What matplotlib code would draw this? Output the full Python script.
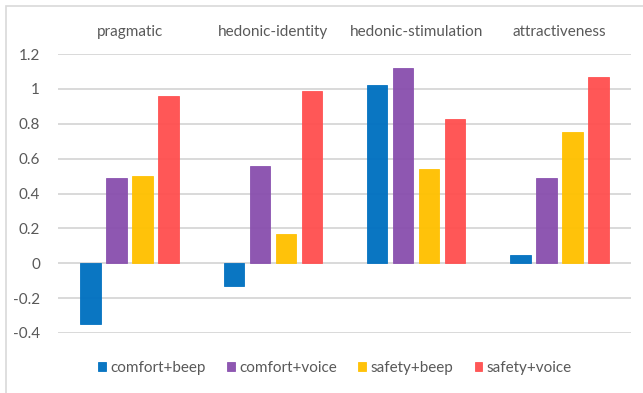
import matplotlib
matplotlib.use("Agg")
import matplotlib.pyplot as plt
import numpy as np
from matplotlib.patches import Rectangle

categories = ["pragmatic", "hedonic-identity", "hedonic-stimulation", "attractiveness"]
series_names = ["comfort+beep", "comfort+voice", "safety+beep", "safety+voice"]
comfort_beep = [-0.35, -0.13, 1.02, 0.05]
comfort_voice = [0.49, 0.56, 1.12, 0.49]
safety_beep = [0.50, 0.17, 0.54, 0.75]
safety_voice = [0.96, 0.99, 0.83, 1.07]
y_ticks = [-0.4, -0.2, 0, 0.2, 0.4, 0.6, 0.8, 1, 1.2]
y_tick_labels = ["-0.4", "-0.2", "0", "0.2", "0.4", "0.6", "0.8", "1", "1.2"]

colors = ["#0070C0", "#8950AE", "#FFC000", "#FF5050"]
series = [comfort_beep, comfort_voice, safety_beep, safety_voice]

plt.rcParams['font.family'] = ['Lato', 'DejaVu Sans']
W, H = 643, 393
fig = plt.figure(figsize=(W / 100, H / 100), dpi=100)

# outer chart border
fig.patches.append(Rectangle((6 / W, -0.05), 1.2, (H - 6) / H + 0.05, transform=fig.transFigure,
                             fill=False, edgecolor="#D9D9D9", linewidth=1.2))

ax = fig.add_axes([58 / W, (H - 333) / H, (631 - 58) / W, (333 - 54) / H])
x = np.arange(len(categories))
step = 0.181
width = 0.143
for i, (vals, c, name) in enumerate(zip(series, colors, series_names)):
    ax.bar(x + (i - 1.5) * step, vals, width, color=c, alpha=0.96,
           edgecolor=c, linewidth=0.6, label=name, zorder=2)

ax.set_xlim(-0.5, len(categories) - 0.5)
ax.set_ylim(-0.4, 1.2)
ax.set_yticks(y_ticks)
ax.set_yticklabels(y_tick_labels)
ax.yaxis.grid(True, color="#D9D9D9", linewidth=1.4, zorder=1)
ax.set_axisbelow(True)
for s in ax.spines.values():
    s.set_visible(False)
ax.tick_params(axis="y", length=0, pad=13, labelsize=11, labelcolor="#595959")
ax.xaxis.tick_top()
ax.set_xticks(x)
ax.set_xticklabels(categories)
ax.tick_params(axis="x", length=0, pad=11, labelsize=11, labelcolor="#595959")

leg = fig.legend(loc="center", bbox_to_anchor=(335 / W, (H - 368) / H), ncol=4,
                 frameon=False, fontsize=11, handlelength=0.5, handleheight=0.5,
                 handletextpad=0.3, columnspacing=1.4, labelcolor="#595959")

fig.savefig("out.png", dpi=100)
